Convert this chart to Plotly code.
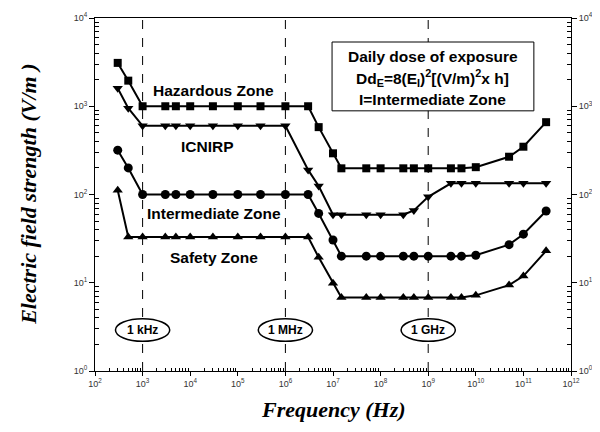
import plotly.graph_objects as go

freq = [300, 500, 1e3, 3e3, 5e3, 1e4, 3e4, 1e5, 3e5, 1e6, 3e6, 5e6, 1e7, 1.5e7,
        5e7, 1e8, 3e8, 5e8, 1e9, 3e9, 5e9, 1e10, 5e10, 1e11, 3e11]
hazardous = [3100, 1950, 1000, 1000, 1000, 1000, 1000, 1000, 1000, 1000, 1000, 580, 293, 198,
             198, 198, 198, 198, 198, 198, 198, 204, 268, 348, 660]
icnirp = [1600, 950, 600, 600, 600, 600, 600, 600, 600, 600, 190, 125, 59, 59,
          59, 59, 59, 66, 94, 134, 134, 134, 134, 134, 134]
intermediate = [318, 200, 100, 100, 100, 100, 100, 100, 100, 100, 100, 61, 30.5, 20,
                20, 20, 20, 20, 20, 20, 20, 20.5, 27, 35.5, 65]
safety = [112, 33, 33, 33, 33, 33, 33, 33, 33, 33, 33, 19.4, 9.9, 6.8,
          6.8, 6.8, 6.8, 6.8, 6.8, 6.8, 6.8, 7.2, 9.4, 11.9, 23]

series = [
    ("Hazardous Zone", hazardous, "square", 8),
    ("ICNIRP", icnirp, "triangle-down", 9),
    ("Intermediate Zone", intermediate, "circle", 9),
    ("Safety Zone", safety, "triangle-up", 9),
]

x_decades = list(range(2, 13))
y_decades = list(range(0, 5))
marked_exp = [3, 6, 9]
marked_labels = ["1 kHz", "1 MHz", "1 GHz"]

fig = go.Figure()
for name, vals, sym, sz in series:
    fig.add_trace(go.Scatter(x=freq, y=vals, mode="lines+markers", name=name,
                             line=dict(color="black", width=2),
                             marker=dict(symbol=sym, size=sz, color="black")))
# invisible trace to activate right axis
fig.add_trace(go.Scatter(x=[freq[0]], y=[hazardous[0]], yaxis="y2", mode="markers",
                         marker=dict(opacity=0), showlegend=False, hoverinfo="skip"))

minor_x = [m * 10 ** d for d in x_decades[:-1] for m in range(2, 10)]
minor_y = [m * 10 ** d for d in y_decades[:-1] for m in range(2, 10)]
tickfont = dict(family="Liberation Sans, Arial", size=9, color="#333")


def yax(side):
    return dict(type="log", range=[0, 4], showgrid=False, zeroline=False, automargin=False,
                showline=True, linecolor="black", linewidth=1, side=side,
                tickmode="array", tickvals=[10 ** d for d in y_decades],
                ticktext=["10<sup>%d</sup>" % d for d in y_decades],
                ticks="outside", ticklen=5, tickcolor="black", tickfont=tickfont,
                minor=dict(tickmode="array", tickvals=minor_y, ticks="inside",
                           ticklen=4, tickcolor="black"))


y2 = yax("right")
y2["overlaying"] = "y"

# the page body adds an 8px offset; size and margins compensate for it
fig.update_layout(
    template="none",
    width=592, height=424,
    margin=dict(l=87, r=29, t=10, b=61),
    paper_bgcolor="white", plot_bgcolor="white",
    showlegend=False,
    xaxis=dict(type="log", range=[2, 12], showgrid=False, zeroline=False, automargin=False,
               showline=True, linecolor="black", linewidth=1, mirror=True,
               tickmode="array", tickvals=[10 ** d for d in x_decades],
               ticktext=["10<sup>%d</sup>" % d for d in x_decades],
               ticks="outside", ticklen=4, tickcolor="black", tickfont=tickfont,
               minor=dict(tickmode="array", tickvals=minor_x, ticks="inside",
                          ticklen=3, tickcolor="black")),
    yaxis=yax("left"),
    yaxis2=y2,
)

# vertical dashed markers with ellipse labels
half_w = 0.57  # ellipse half width in decades
for e, lab in zip(marked_exp, marked_labels):
    fig.add_shape(type="line", x0=10 ** e, x1=10 ** e, xref="x", y0=0, y1=1, yref="paper",
                  line=dict(color="black", width=1, dash="dash"), layer="below")
    fig.add_shape(type="circle", xref="x", x0=10 ** (e - half_w), x1=10 ** (e + half_w),
                  yref="paper", y0=0.084, y1=0.148,
                  line=dict(color="black", width=1.5), fillcolor="white", layer="above")
    fig.add_annotation(x=e, y=0.116, xref="x", yref="paper", xanchor="center",
                       yanchor="middle", text="<b>%s</b>" % lab, showarrow=False,
                       font=dict(family="Liberation Sans, Arial", size=12, color="black"))

zone_font = dict(family="Liberation Sans, Arial", size=15.5, color="black")
for text, lx, ly in [("Hazardous Zone", 4.48, 3.18), ("ICNIRP", 4.37, 2.54),
                     ("Intermediate Zone", 4.50, 1.79), ("Safety Zone", 4.50, 1.29)]:
    fig.add_annotation(x=lx, y=ly, xref="x", yref="y", text="<b>%s</b>" % text,
                       xanchor="center", yanchor="middle", showarrow=False, font=zone_font)

# info box
box_font = dict(family="Liberation Sans, Arial", size=15.5, color="black")
fig.add_shape(type="rect", xref="paper", yref="paper", x0=0.498, x1=0.922, y0=0.737, y1=0.932,
              line=dict(color="black", width=1), fillcolor="white", layer="above")
box_lines = ["Daily dose of exposure",
             "Dd<sub>E</sub>=8(E<sub>I</sub>)<sup>2</sup>[(V/m)<sup>2</sup>x h]",
             "I=Intermediate Zone"]
for t, yy in zip(box_lines, [0.890, 0.830, 0.768]):
    fig.add_annotation(x=0.710, y=yy, xref="paper", yref="paper", text="<b>%s</b>" % t,
                       xanchor="center", yanchor="middle", showarrow=False, font=box_font)

title_font = dict(family="Liberation Serif, Times New Roman", size=22, color="black",
                  weight="bold", style="italic")
fig.add_annotation(x=-0.14, y=0.5, xref="paper", yref="paper", textangle=-90,
                   xanchor="center", yanchor="middle",
                   text="Electric field strength (V/m )", showarrow=False, font=title_font)
fig.add_annotation(x=0.5, y=-0.11, xref="paper", yref="paper", xanchor="center",
                   yanchor="middle", text="Frequency (Hz)", showarrow=False, font=title_font)

fig.write_html("out.html")
